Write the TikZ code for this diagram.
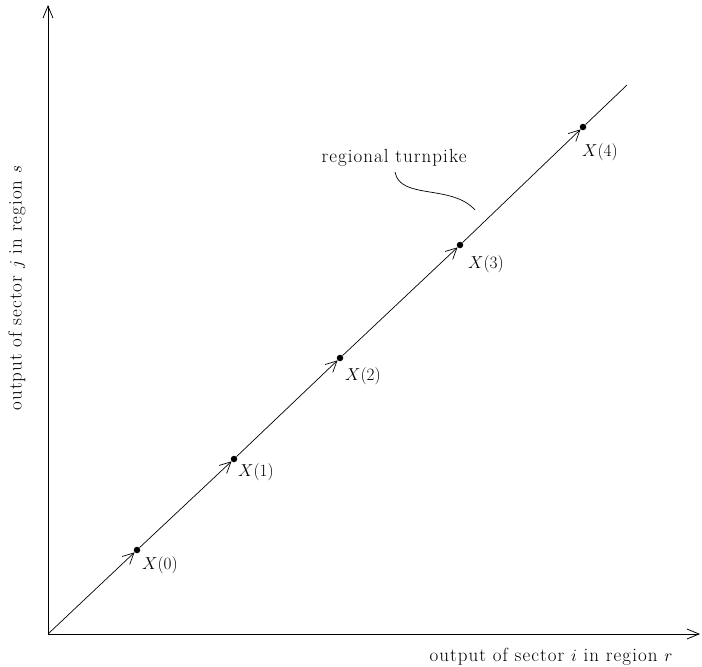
\documentclass[tikz,border=0pt]{standalone}
\usepackage{fontspec}
\setmainfont{Latin Modern Roman}[LetterSpace=5.5]
\usetikzlibrary{arrows.meta}
\begin{document}
\begin{tikzpicture}[x=1pt,y=-1pt,
  lbl/.style={font=\fontsize{17}{20}\selectfont, inner sep=0pt},
  txt/.style={font=\fontsize{19}{22}\selectfont, inner sep=0pt},
  dotnode/.style={circle, fill=black, inner sep=0pt, minimum size=6.5pt},
  axis/.style={line width=0.8pt, -{Straight Barb[length=12pt,width=10pt]}},
  seg/.style={line width=0.7pt, -{Straight Barb[length=11pt,width=11pt]}}]
\useasboundingbox (0,0) rectangle (702,667);
\coordinate (O) at (48,634);
\coordinate (ytop) at (48,5);
\coordinate (xend) at (700,634);
\coordinate (E) at (627,85);
\draw[axis] (O) -- (ytop);
\draw[axis] (O) -- (xend);
\node[dotnode] (p0) at (137,550) {};
\node[dotnode] (p1) at (234,459) {};
\node[dotnode] (p2) at (340,358) {};
\node[dotnode] (p3) at (460,245) {};
\node[dotnode] (p4) at (583,127) {};
\draw[seg] (O) -- (p0);
\draw[seg] (p0) -- (p1);
\draw[seg] (p1) -- (p2);
\draw[seg] (p2) -- (p3);
\draw[seg] (p3) -- (p4);
\draw[line width=0.7pt] (p4) -- (E);
\node[lbl] (l0) at (160,565) {$X(0)$};
\node[lbl] (l1) at (256,472) {$X(1)$};
\node[lbl] (l2) at (363,376) {$X(2)$};
\node[lbl] (l3) at (486,264) {$X(3)$};
\node[lbl] (l4) at (600,152) {$X(4)$};
\node[txt] (rt) at (394,158) {regional turnpike};
\coordinate (ce) at (475,210);
\draw[line width=0.7pt] (395,172) .. controls (400,200) and (452,184) .. (ce);
\node[txt] (xl) at (551,657) {output of sector $i$ in region $r$};
\node[txt, rotate=90] (yl) at (17,288) {output of sector $j$ in region $s$};
\end{tikzpicture}
\end{document}
